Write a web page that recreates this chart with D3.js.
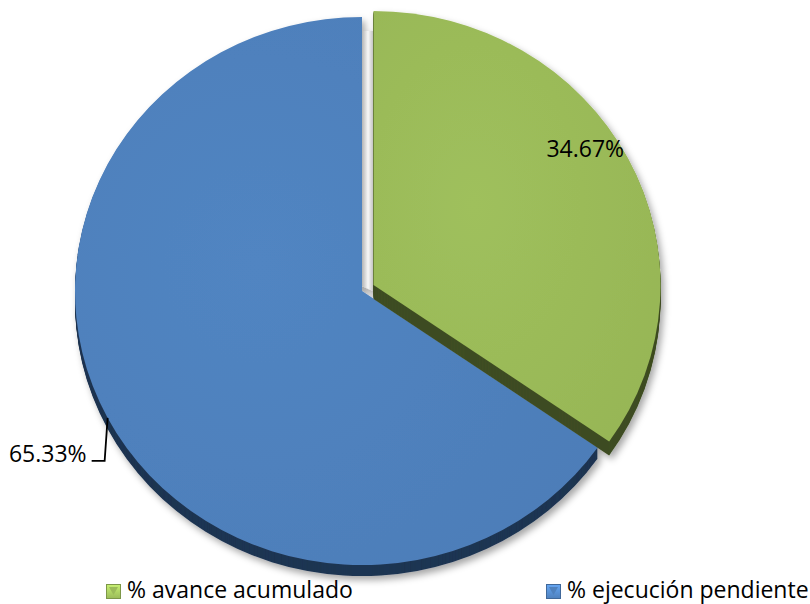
<!DOCTYPE html>
<html>
<head>
<meta charset="utf-8">
<script src="https://cdn.jsdelivr.net/npm/d3@7"></script>
<style>
  html, body { margin: 0; padding: 0; background: #fff; }
  svg { display: block; }
  text { font-family: "Open Sans", "DejaVu Sans", sans-serif; fill: #000; }
</style>
</head>
<body>
<svg id="chart" width="810" height="604"></svg>
<script>
// ---- data ----
const categories = ["% avance acumulado", "% ejecución pendiente"];
const values = [34.67, 65.33];
const labels = ["34.67%", "65.33%"];
const faceColors = ["#9BBB59", "#4F81BD"];
const sideColors = ["#3F4D22", "#1F3552"];
const exploded = [true, false];

// ---- layout ----
const W = 810, H = 604;
const cx = 362, cy = 291, rx = 287, ry = 274, explode = 13;
const depths = [14, 11];
const fontSize = 23;

const svg = d3.select("#chart");
const defs = svg.append("defs");

const f = defs.append("filter").attr("id", "shadow")
  .attr("x", "-10%").attr("y", "-10%").attr("width", "120%").attr("height", "120%");
f.append("feDropShadow").attr("dx", 3).attr("dy", 4).attr("stdDeviation", 3.5)
  .attr("flood-color", "#000").attr("flood-opacity", 0.35);

const wallGrad = defs.append("linearGradient").attr("id", "wallGrad")
  .attr("x1", "0").attr("x2", "1").attr("y1", "0").attr("y2", "0");
wallGrad.append("stop").attr("offset", "0%").attr("stop-color", "#b4b4b4");
wallGrad.append("stop").attr("offset", "55%").attr("stop-color", "#f8f8f8");
wallGrad.append("stop").attr("offset", "100%").attr("stop-color", "#c4c4c4");

function faceGrad(id, c) {
  const g = defs.append("radialGradient").attr("id", id)
    .attr("cx", "35%").attr("cy", "45%").attr("r", "75%");
  g.append("stop").attr("offset", "0%").attr("stop-color", d3.color(c).brighter(0.08));
  g.append("stop").attr("offset", "100%").attr("stop-color", d3.color(c).darker(0.08));
}
faceColors.forEach((c, i) => faceGrad("face" + i, c));

function iconGrad(id, c) {
  const g = defs.append("linearGradient").attr("id", id)
    .attr("x1", "0").attr("x2", "0").attr("y1", "0").attr("y2", "1");
  g.append("stop").attr("offset", "0%").attr("stop-color", d3.color(c).brighter(0.7));
  g.append("stop").attr("offset", "100%").attr("stop-color", c);
}
faceColors.forEach((c, i) => iconGrad("icon" + i, c));

const pie = d3.pie().sort(null).value(d => d);
const arcs = pie(values);
const arc = d3.arc().innerRadius(0).outerRadius(rx);
const sy = ry / rx;

const gPie = svg.append("g").attr("filter", "url(#shadow)");

// draw order: non-exploded (blue) first, then exploded (green)
const order = [1, 0];
order.forEach(i => {
  const a = arcs[i];
  const mid = (a.startAngle + a.endAngle) / 2;
  const ox = exploded[i] ? explode * Math.sin(mid) : 0;
  const oy = exploded[i] ? -explode * Math.cos(mid) : 0;
  const g = gPie.append("g");
  for (let k = depths[i]; k >= 1; k--) {
    g.append("path")
      .attr("d", arc(a))
      .attr("transform", `translate(${cx + ox},${cy + oy + k}) scale(1,${sy})`)
      .attr("fill", sideColors[i]);
  }
  g.append("path")
    .attr("d", arc(a))
    .attr("transform", `translate(${cx + ox},${cy + oy}) scale(1,${sy})`)
    .attr("fill", `url(#face${i})`);
  if (!exploded[i]) {
    // visible radial wall at the top gap
    const pts = [[cx, cy - ry + 14], [cx + 11, cy - ry + 14], [cx + 11, cy], [cx, cy - 5]];
    g.append("path").attr("d", d3.line()(pts) + "Z").attr("fill", "url(#wallGrad)");
  }
});

// ---- data labels ----
// green (inside)
{
  const a = arcs[0];
  const ang = a.startAngle + (a.endAngle - a.startAngle) * 0.45;
  const ox = explode * Math.sin((a.startAngle + a.endAngle) / 2);
  const oy = -explode * Math.cos((a.startAngle + a.endAngle) / 2);
  const lx = cx + ox + rx * 0.88 * Math.sin(ang);
  const ly = cy + oy - ry * 0.88 * Math.cos(ang);
  svg.append("text").attr("x", lx + 2).attr("y", ly + 6)
    .attr("text-anchor", "middle").style("font-size", fontSize + "px").text(labels[0]);
}
// blue (outside with leader)
{
  const a = arcs[1];
  const mid = (a.startAngle + a.endAngle) / 2;
  const px = cx + rx * Math.sin(mid);
  const py = cy - ry * Math.cos(mid);
  const elbow = [px - 3, py + 43];
  const end = [elbow[0] - 13, elbow[1]];
  svg.append("path")
    .attr("d", d3.line()([[px, py], elbow, end]))
    .attr("fill", "none").attr("stroke", "#000").attr("stroke-width", 1.8);
  svg.append("text").attr("x", end[0] - 5).attr("y", end[1] + 1)
    .attr("text-anchor", "end").style("font-size", fontSize + "px").text(labels[1]);
}

// ---- legend ----
const legendX = [106, 546];
const legendY = 584;
const legendOrder = [0, 1];
legendOrder.forEach((i, j) => {
  const g = svg.append("g").attr("transform", `translate(${legendX[j]},${legendY})`);
  g.append("rect").attr("x", 0.5).attr("y", 0.5).attr("width", 14).attr("height", 14)
    .attr("fill", `url(#icon${i})`).attr("stroke", d3.color(faceColors[i]).darker(0.6)).attr("stroke-width", 1);
  g.append("path").attr("d", "M3,3 L12,3 L7.5,11 Z").attr("fill", faceColors[i]);
  g.append("text").attr("x", 21).attr("y", 14).style("font-size", fontSize + "px").text(categories[i]);
});
</script>
</body>
</html>
